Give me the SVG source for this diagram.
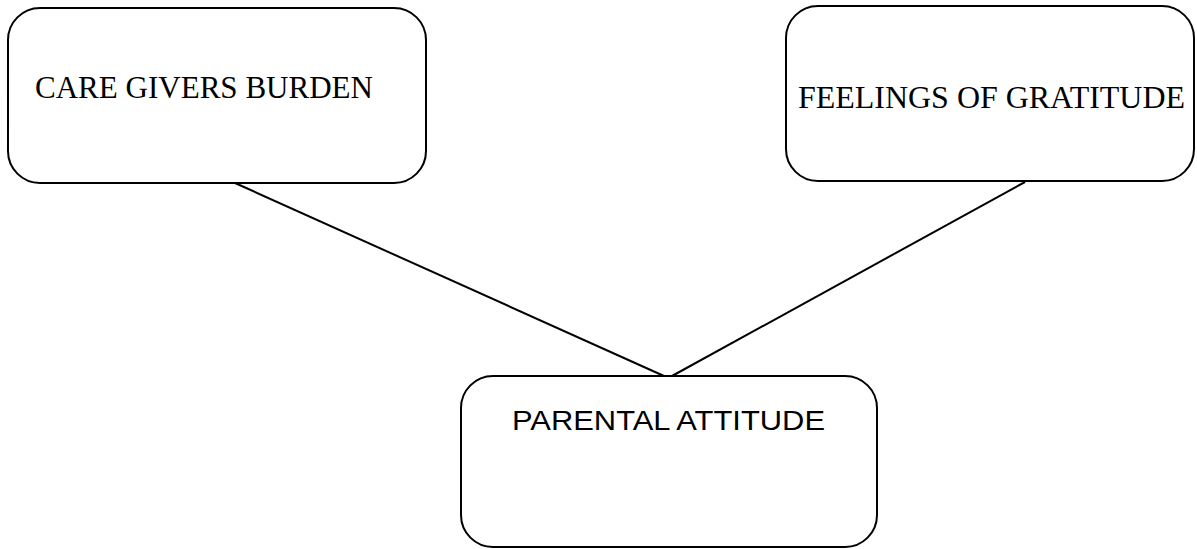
<svg xmlns="http://www.w3.org/2000/svg" width="1197" height="549" viewBox="0 0 1197 549">
<style>
.box{fill:#fff;stroke:#000;stroke-width:2}
.conn{stroke:#000;stroke-width:2;fill:none}
.serif{font-family:"Liberation Serif","Times New Roman",serif;font-size:31px;fill:#000}
.sans{font-family:"Liberation Sans",Arial,sans-serif;font-size:28px;fill:#000}
</style>
<rect width="1197" height="549" fill="#fff"/>
<g id="connectors">
<line class="conn" x1="235" y1="183" x2="664" y2="376"/>
<line class="conn" x1="1025" y1="182" x2="672" y2="376"/>
</g>
<g id="node-caregivers">
<rect class="box" x="8" y="8" width="418" height="175" rx="32" ry="32"/>
<text class="serif" x="35" y="98" textLength="338" lengthAdjust="spacingAndGlyphs">CARE GIVERS BURDEN</text>
</g>
<g id="node-gratitude">
<rect class="box" x="786" y="6" width="408" height="175" rx="32" ry="32"/>
<text class="serif" x="798" y="108" textLength="387" lengthAdjust="spacingAndGlyphs">FEELINGS OF GRATITUDE</text>
</g>
<g id="node-parental">
<rect class="box" x="461" y="376" width="416" height="171" rx="32" ry="32"/>
<text class="sans" x="512" y="430" textLength="313" lengthAdjust="spacingAndGlyphs">PARENTAL ATTITUDE</text>
</g>
</svg>
